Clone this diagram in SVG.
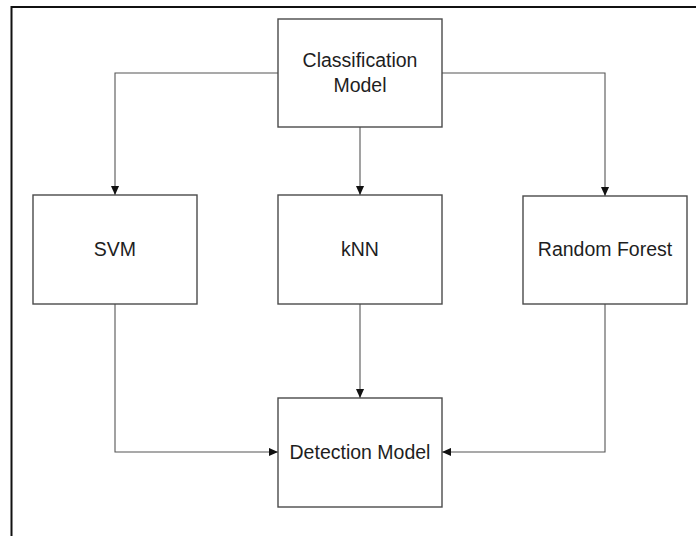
<svg xmlns="http://www.w3.org/2000/svg" width="696" height="536" viewBox="0 0 696 536">
<style>
.box{fill:#fff;stroke:#4a4a4a;stroke-width:1.4}
.lbl{font-family:"Liberation Sans",Arial,sans-serif;font-size:19.5px;fill:#1e1e1e;text-anchor:middle}
.con{fill:none;stroke:#555;stroke-width:1.1}
</style>
<defs>
<marker id="ah" viewBox="0 0 10 10" refX="10" refY="5" markerWidth="9" markerHeight="9" markerUnits="userSpaceOnUse" orient="auto">
<path d="M0,0.5 L10,5 L0,9.5 z" fill="#111"/>
</marker>
</defs>
<rect width="696" height="536" fill="#fff"/>
<path d="M11.5,540 V7 H700" fill="none" stroke="#111" stroke-width="2"/>
<g id="connectors">
<path class="con" d="M278,73 H115 V195" marker-end="url(#ah)"/>
<path class="con" d="M360,127 V195" marker-end="url(#ah)"/>
<path class="con" d="M442,73 H605 V196" marker-end="url(#ah)"/>
<path class="con" d="M115,304 V452 H278" marker-end="url(#ah)"/>
<path class="con" d="M360,304 V398" marker-end="url(#ah)"/>
<path class="con" d="M605,304 V452 H442" marker-end="url(#ah)"/>
</g>
<g id="classification">
<rect class="box" x="278" y="19" width="164" height="108"/>
<text class="lbl" x="360" y="67">Classification</text>
<text class="lbl" x="360" y="92">Model</text>
</g>
<g id="svm">
<rect class="box" x="33" y="195" width="164" height="109"/>
<text class="lbl" x="115" y="256">SVM</text>
</g>
<g id="knn">
<rect class="box" x="278" y="195" width="164" height="109"/>
<text class="lbl" x="360" y="256">kNN</text>
</g>
<g id="randomforest">
<rect class="box" x="523" y="196" width="164" height="108"/>
<text class="lbl" x="605" y="256">Random Forest</text>
</g>
<g id="detection">
<rect class="box" x="278" y="398" width="164" height="109"/>
<text class="lbl" x="360" y="459">Detection Model</text>
</g>
</svg>
